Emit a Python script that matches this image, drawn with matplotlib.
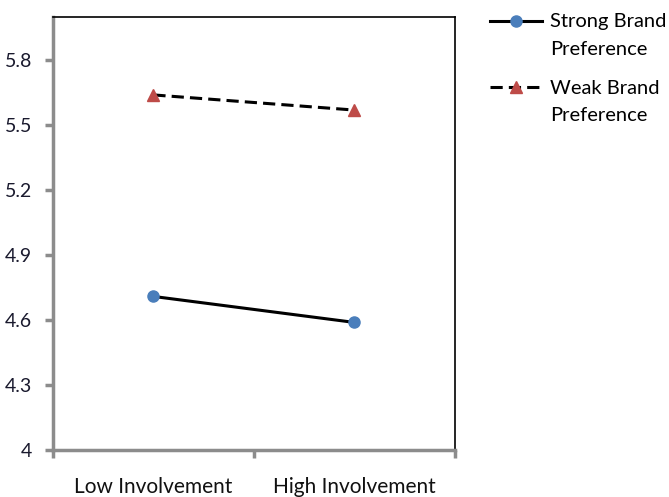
import numpy as np
from matplotlib import pyplot as plt
from matplotlib.legend_handler import HandlerLine2D

categories = ['Low Involvement', 'High Involvement']
strong_pref = [4.71, 4.59]
weak_pref = [5.64, 5.57]
y_ticks = [4, 4.3, 4.6, 4.9, 5.2, 5.5, 5.8]

plt.rcParams['font.family'] = ['Lato', 'DejaVu Sans']


class TopLineHandler(HandlerLine2D):
    # put the legend key level with the first line of a two-line label
    def create_artists(self, legend, orig_handle, xdescent, ydescent, width, height, fontsize, trans):
        return super().create_artists(legend, orig_handle, xdescent, ydescent - 21, width, height,
                                      fontsize, trans)


fig = plt.figure(figsize=(6.69, 4.97), dpi=100)
ax = fig.add_axes([0.079, 0.094, 0.601, 0.872])

x = np.arange(len(categories))
ax.plot(x, strong_pref, color='black', linewidth=2.2, marker='o', markersize=8,
        markerfacecolor='#4a7ebb', markeredgecolor='#4a7ebb', label='Strong Brand\nPreference')
ax.plot(x, weak_pref, color='black', linewidth=2.2, linestyle=(0, (4, 2)), marker='^', markersize=9,
        markerfacecolor='#be4b48', markeredgecolor='#be4b48', label='Weak Brand\nPreference')

ax.set_xlim(-0.5, 1.5)
ax.set_ylim(4, 6.0)
ax.set_yticks(y_ticks)
ax.set_yticklabels([f'{v:g}' for v in y_ticks], fontsize=14, color='#1a1a2e')

ax.set_xticks([-0.5, 0.5, 1.5])
ax.set_xticklabels([])
ax.set_xticks(x, minor=True)
ax.set_xticklabels(categories, minor=True, fontsize=15, color='#111111')
ax.tick_params(axis='x', which='minor', length=0, pad=19)
ax.tick_params(axis='both', which='major', direction='out', length=6, width=2.5, color='#8c8c8c')
ax.tick_params(axis='y', pad=9)

for side in ['left', 'bottom']:
    ax.spines[side].set_color('#8c8c8c')
    ax.spines[side].set_linewidth(2.5)
for side in ['top', 'right']:
    ax.spines[side].set_color('black')
    ax.spines[side].set_linewidth(1.2)

leg = fig.legend(loc='upper left', bbox_to_anchor=(0.705, 1.01), frameon=False, fontsize=14.5,
                 handlelength=2.6, handletextpad=0.4, labelspacing=1.1,
                 handler_map={plt.Line2D: TopLineHandler()})
for t in leg.get_texts():
    t.set_linespacing(1.75)

fig.savefig('out.png', dpi=100)
